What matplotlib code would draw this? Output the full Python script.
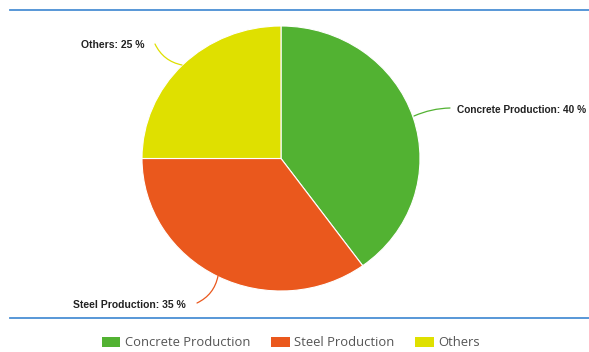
import matplotlib
matplotlib.use("Agg")
import matplotlib.pyplot as plt
from matplotlib.lines import Line2D
from matplotlib.patches import Patch, FancyArrowPatch

categories = ["Concrete Production", "Steel Production", "Others"]
values = [40, 35, 25]
colors = ["#52b232", "#ea581d", "#dfe000"]

W, H = 589, 352
fig = plt.figure(figsize=(W / 100, H / 100), dpi=100)

def fx(x):
    return x / W

def fy(y):
    return 1 - y / H

# pie axes (slightly stretched horizontally as in the reference)
cx, cy, rx, ry = 281, 158.5, 139, 132.5
ax = fig.add_axes([fx(cx - rx), fy(cy + ry), 2 * rx / W, 2 * ry / H])
wedges, _ = ax.pie(values, colors=colors, startangle=90, counterclock=False,
                   wedgeprops=dict(edgecolor="white", linewidth=0.8))
ax.set_xlim(-1, 1)
ax.set_ylim(-1, 1)
ax.set_aspect("auto")
ax.axis("off")

# separator lines
for y in (10, 318):
    fig.add_artist(Line2D([fx(10), fx(589)], [fy(y), fy(y)], color="#4a8fd4",
                          linewidth=1.3, transform=fig.transFigure))

lab_font = dict(family=["Liberation Sans", "DejaVu Sans"], fontsize=7.5,
                fontweight="bold", color="#222222")

labels = [f"{c}: {v} %" for c, v in zip(categories, values)]
# Concrete (kept just inside the right edge)
fig.text(fx(586), fy(110), labels[0], ha="right", va="center",
         **{**lab_font, "fontsize": 7.3})
# Steel
fig.text(fx(73), fy(305), labels[1], ha="left", va="center", **lab_font)
# Others
fig.text(fx(81), fy(45), labels[2], ha="left", va="center", **lab_font)

def connector(p0, p1, color, rad):
    a = FancyArrowPatch((fx(p0[0]), fy(p0[1])), (fx(p1[0]), fy(p1[1])),
                        transform=fig.transFigure, arrowstyle="-",
                        connectionstyle=f"arc3,rad={rad}", color=color,
                        linewidth=0.9, shrinkA=0, shrinkB=0)
    fig.add_artist(a)

connector((414, 116), (450, 108), colors[0], -0.1)
connector((218, 276), (197, 303), colors[1], -0.25)
connector((182, 65), (155, 44), colors[2], -0.25)

handles = [Patch(facecolor=c, edgecolor="none") for c in colors]
fig.legend(handles, categories, loc="center", bbox_to_anchor=(fx(291), fy(343)),
           ncol=3, frameon=False, handlelength=1.4, handleheight=0.8,
           handletextpad=0.35, columnspacing=1.6,
           prop=dict(family=["Open Sans", "DejaVu Sans"], size=9.4),
           labelcolor="#555555")

fig.savefig("out.png", dpi=100)
